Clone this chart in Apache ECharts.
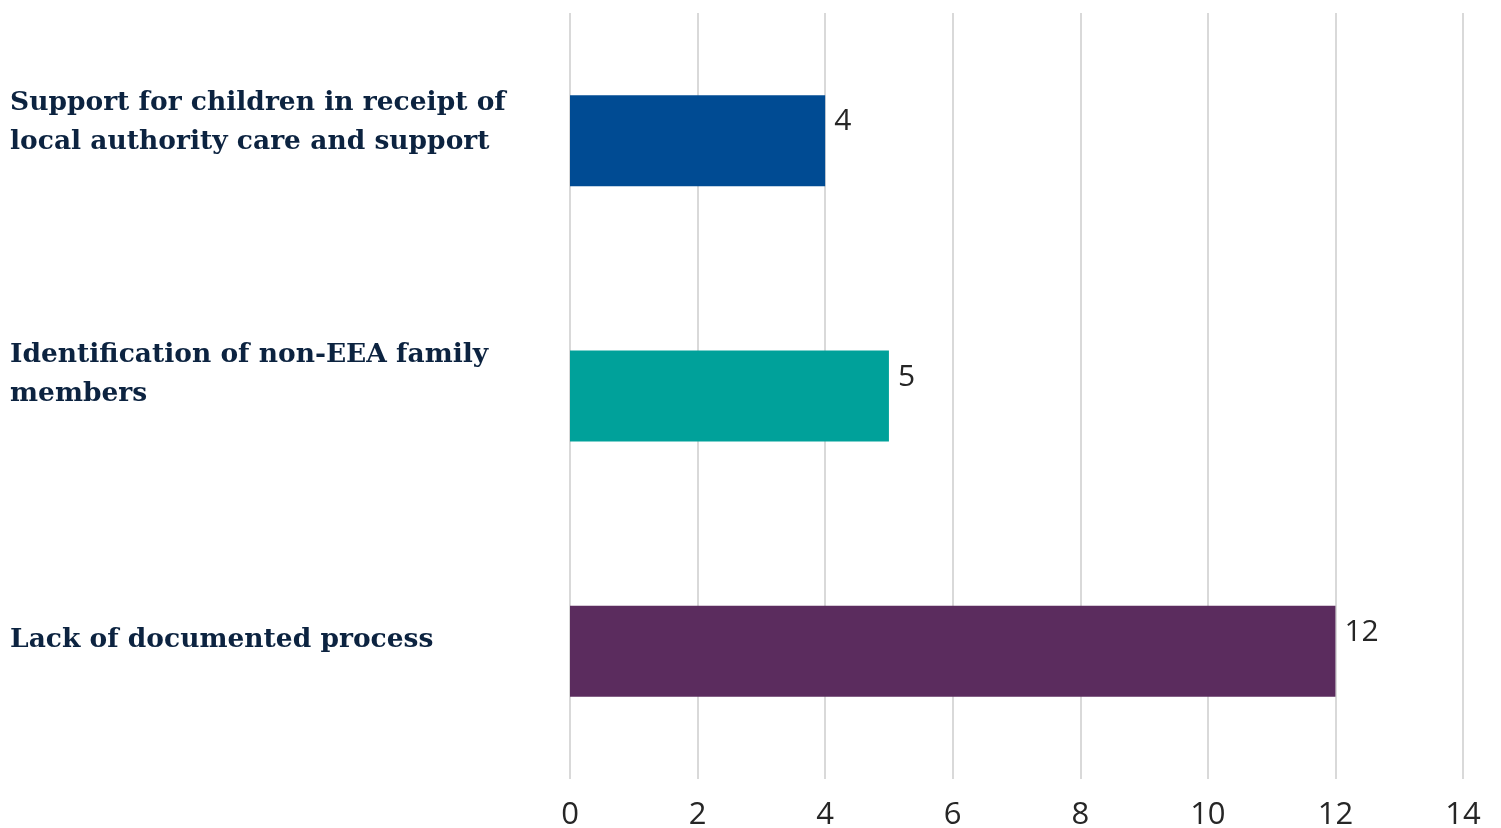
<!DOCTYPE html>
<html>
<head>
<meta charset="utf-8">
<script src="https://cdn.jsdelivr.net/npm/echarts@6/dist/echarts.min.js"></script>
<style>
  html, body { margin: 0; padding: 0; background: #ffffff; }
  #chart { width: 1501px; height: 828px; }
</style>
</head>
<body>
<div id="chart"></div>
<script>
// Issue categories (top to bottom) and the number of cases for each
const categories = [
  'Support for children in receipt of\nlocal authority care and support',
  'Identification of non-EEA family\nmembers',
  'Lack of documented process'
];
const counts = [4, 5, 12];
const barColors = ['#004b93', '#00a19a', '#5b2c5e'];
const xTicks = [0, 2, 4, 6, 8, 10, 12, 14];

const chart = echarts.init(document.getElementById('chart'), null, { renderer: 'canvas' });

// Each category label gets an empty trailing line so the text block rides
// a little above the middle of its bar.
function categoryLabel(value, index) {
  const lines = value.split('\n').map(l => '{t|' + l + '}');
  const spacer = lines.length > 1 ? (index === 1 ? 'g2' : 'g1') : 'g0';
  return lines.join('\n') + '\n{' + spacer + '| }';
}

chart.setOption({
  animation: false,
  backgroundColor: '#ffffff',
  grid: {
    left: 570, right: 38, top: 13, bottom: 49,
    containLabel: false,
    outerBoundsMode: 'none'
  },
  xAxis: {
    type: 'value',
    min: xTicks[0],
    max: xTicks[xTicks.length - 1],
    interval: xTicks[1] - xTicks[0],
    axisLine: { show: false },
    axisTick: { show: false },
    splitLine: { show: true, lineStyle: { color: '#d9d9d9', width: 2 } },
    axisLabel: {
      color: '#262626',
      fontFamily: 'Open Sans',
      fontSize: 31,
      margin: 21
    }
  },
  yAxis: {
    type: 'category',
    inverse: true,
    data: categories,
    axisLine: { show: false },
    axisTick: { show: false },
    splitLine: { show: false },
    axisLabel: {
      align: 'left',
      margin: 560,
      formatter: categoryLabel,
      rich: {
        t: {
          color: '#0c2340',
          fontFamily: 'DejaVu Serif',
          fontWeight: 'bold',
          fontSize: 26.5,
          lineHeight: 39,
          align: 'left'
        },
        g0: { fontSize: 1, lineHeight: 22 },
        g1: { fontSize: 1, lineHeight: 36 },
        g2: { fontSize: 1, lineHeight: 42 }
      }
    }
  },
  series: [{
    type: 'bar',
    barWidth: 91,
    data: counts.map((v, i) => ({ value: v, itemStyle: { color: barColors[i] } })),
    label: {
      show: true,
      position: 'right',
      distance: 9,
      offset: [0, -19],
      color: '#262626',
      fontFamily: 'Open Sans',
      fontSize: 30
    }
  }]
});
</script>
</body>
</html>
